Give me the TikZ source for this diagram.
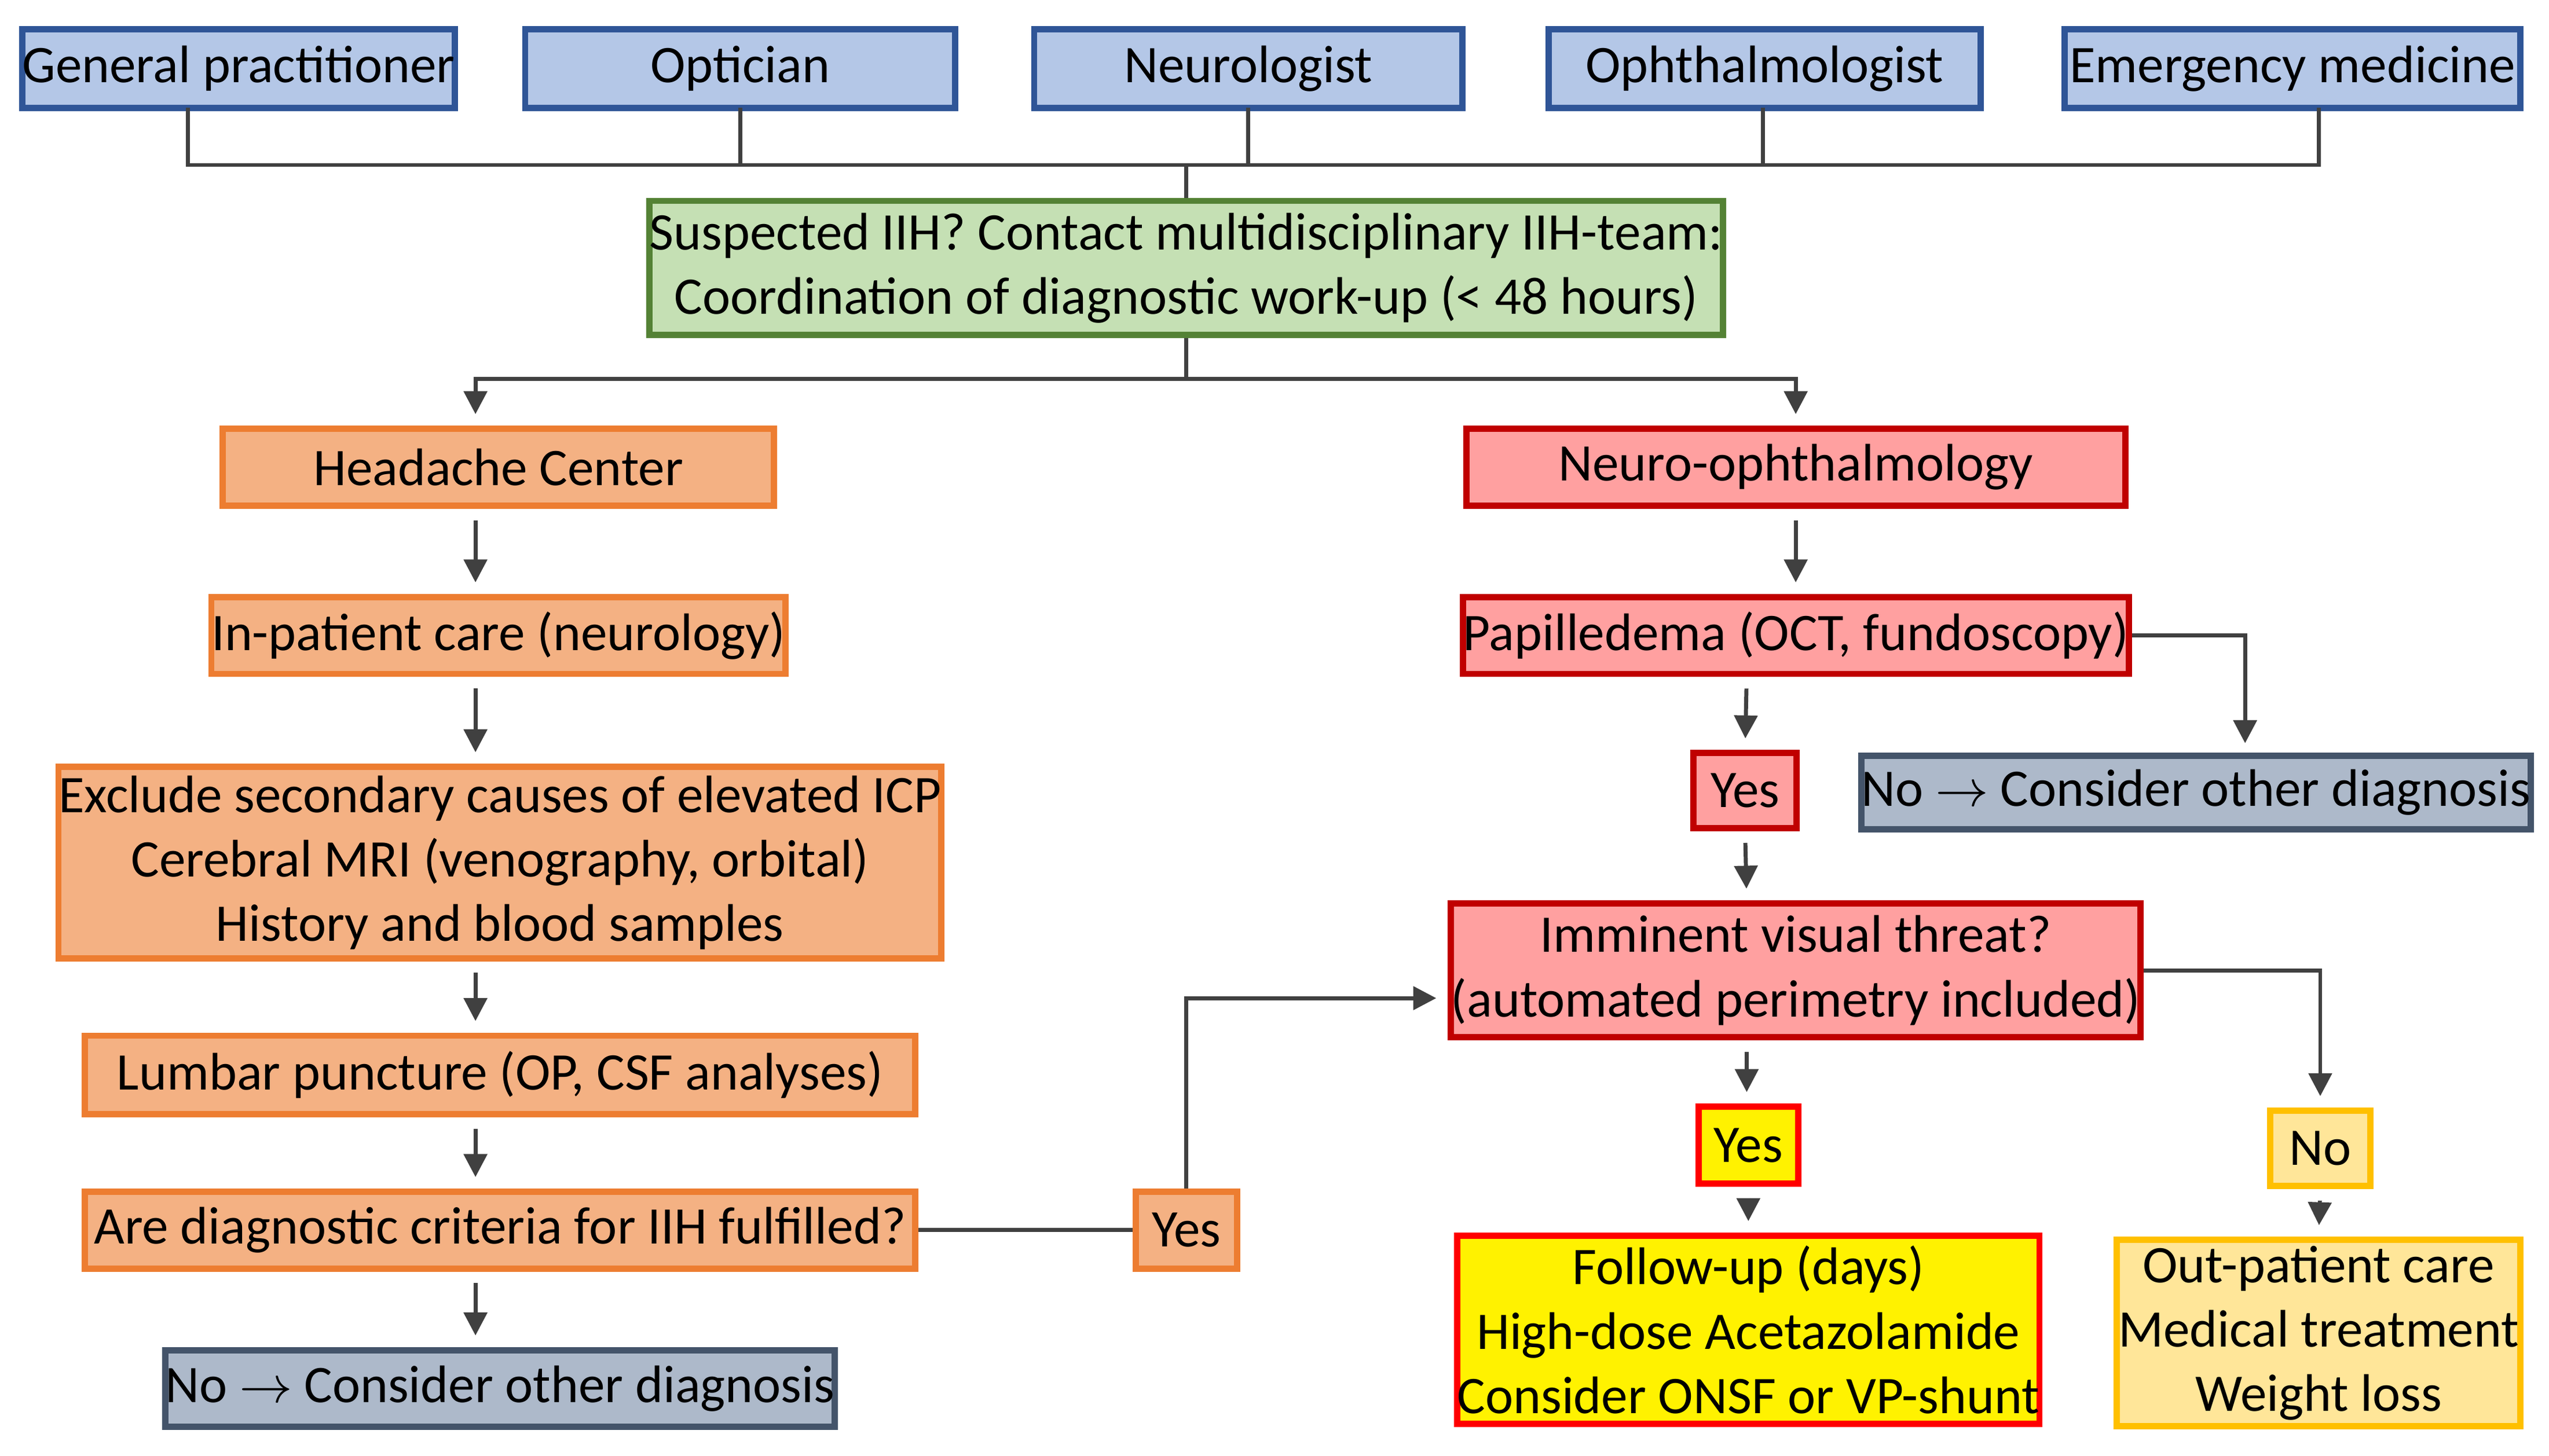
\documentclass[tikz,border=0pt]{standalone}
\usepackage{fontspec}
\setmainfont{Carlito}
\usetikzlibrary{arrows.meta,positioning}
\definecolor{lnk}{HTML}{404040}
\tikzset{
  box/.style={draw, line width=1.1pt, align=center, inner sep=0pt, font=\fontsize{9.2}{11.2}\selectfont},
  src/.style={box, fill=blue!25!cyan!10!white, fill={rgb,255:red,180;green,199;blue,231}, draw={rgb,255:red,47;green,85;blue,151}},
  team/.style={box, fill={rgb,255:red,197;green,224;blue,180}, draw={rgb,255:red,84;green,130;blue,53}},
  hc/.style={box, fill={rgb,255:red,244;green,177;blue,131}, draw={rgb,255:red,237;green,125;blue,49}},
  no/.style={box, fill={rgb,255:red,173;green,185;blue,202}, draw={rgb,255:red,68;green,84;blue,106}},
  neu/.style={box, fill={rgb,255:red,255;green,160;blue,160}, draw={rgb,255:red,192;green,0;blue,0}},
  urg/.style={box, fill=yellow, draw=red},
  mild/.style={box, fill={rgb,255:red,255;green,230;blue,153}, draw={rgb,255:red,255;green,192;blue,0}},
  link/.style={draw=lnk, line width=0.7pt},
  arr/.style={link, -{Triangle[length=4pt,width=4pt]}, shorten <=2pt, shorten >=2pt}
}
\begin{document}
\begin{tikzpicture}[x=0.01cm, y=-0.01cm]
\useasboundingbox (0,0) rectangle (1560,891);
% referring services
\node[src, minimum width=2.63cm, minimum height=0.48cm] (gp) at (146,42) {General practitioner};
\node[src, minimum width=2.63cm, minimum height=0.48cm] (opt) at (453,42) {Optician};
\node[src, minimum width=2.62cm, minimum height=0.48cm] (neur) at (764,42) {Neurologist};
\node[src, minimum width=2.64cm, minimum height=0.48cm] (oph) at (1080,42) {Ophthalmologist};
\node[src, minimum width=2.79cm, minimum height=0.48cm] (em) at (1403,42) {Emergency medicine};
\node[team, minimum width=6.53cm, minimum height=0.82cm] (team) at (726,164) {Suspected IIH? Contact multidisciplinary IIH-team:\\Coordination of diagnostic work-up (< 48 hours)};
\coordinate (bus) at (726,101);
\draw[link] (115,66) |- (bus) (453,66) -- (453,101) (764,66) -- (764,101) (1079,66) -- (1079,101) (1419,66) |- (bus);
\draw[link] (bus) -- (team.north);
% left branch
\node[hc, minimum width=3.37cm, minimum height=0.47cm] (head) at (305,286) {Headache Center};
\node[hc, minimum width=3.37cm, minimum height=0.47cm] (inp) at (305,389) {In-patient care (neurology)};
\node[hc, minimum width=5.08cm, minimum height=1.17cm] (excl) at (306,528) {Exclude secondary causes of elevated ICP\\Cerebral MRI (venography, orbital)\\History and blood samples};
\node[hc, minimum width=5.08cm, minimum height=0.48cm] (lp) at (306,658) {Lumbar puncture (OP, CSF analyses)};
\node[hc, minimum width=5.08cm, minimum height=0.47cm] (crit) at (306,753) {Are diagnostic criteria for IIH fulfilled?};
\node[no, minimum width=4.04cm, minimum height=0.47cm] (noL) at (306,850) {No $\rightarrow$ Consider other diagnosis};
\node[hc, minimum width=0.62cm, minimum height=0.47cm] (yesL) at (726,753) {Yes};
% right branch
\node[neu, minimum width=4.03cm, minimum height=0.47cm] (nop) at (1099,286) {Neuro-ophthalmology};
\node[neu, minimum width=4.03cm, minimum height=0.47cm] (pap) at (1099,389) {Papilledema (OCT, fundoscopy)};
\node[neu, minimum width=0.63cm, minimum height=0.46cm] (yesP) at (1068,484) {Yes};
\node[no, minimum width=3.98cm, minimum height=0.45cm] (noR) at (1344,485) {No $\rightarrow$ Consider other diagnosis};
\node[neu, minimum width=4.03cm, minimum height=0.82cm] (vis) at (1099,594) {Imminent visual threat?\\(automated perimetry included)};
\node[urg, minimum width=0.61cm, minimum height=0.47cm] (yesV) at (1070,701) {Yes};
\node[mild, minimum width=0.61cm, minimum height=0.46cm] (noV) at (1420,703) {No};
\node[urg, minimum width=3.44cm, minimum height=1.15cm] (fu) at (1070,814) {Follow-up (days)\\High-dose Acetazolamide\\Consider ONSF or VP-shunt};
\node[mild, minimum width=2.47cm, minimum height=1.14cm] (outp) at (1419,816) {Out-patient care\\Medical treatment\\Weight loss};
% connectors
\coordinate (split) at (726,232);
\draw[link] (team.south) -- (split);
\draw[arr, shorten <=0pt] (split) -| ([xshift=-0.14cm]head.north);
\draw[arr, shorten <=0pt] (split) -| (nop.north);
\draw[arr] ([xshift=-0.14cm]head.south) -- ([xshift=-0.14cm]inp.north);
\draw[arr] ([xshift=-0.14cm]inp.south) -- ([xshift=-0.15cm]excl.north);
\draw[arr] ([xshift=-0.15cm]excl.south) -- ([xshift=-0.15cm]lp.north);
\draw[arr] ([xshift=-0.15cm]lp.south) -- ([xshift=-0.15cm]crit.north);
\draw[arr] ([xshift=-0.15cm]crit.south) -- ([xshift=-0.15cm]noL.north);
\draw[link] (crit.east) -- (yesL.west);
\draw[arr, shorten <=0pt] (yesL.north) |- ([yshift=-0.17cm]vis.west);
\draw[arr] (nop.south) -- (pap.north);
\draw[arr, shorten <=0pt] (pap.east) -| (1374,462);
\draw[arr] ([xshift=-0.3cm]pap.south) -- (yesP.north);
\draw[arr] (yesP.south) -- ([xshift=-0.3cm]vis.north);
\draw[arr, shorten <=0pt] (vis.east) -| (noV.north);
\draw[arr] ([xshift=-0.3cm]vis.south) -- ([xshift=-0.01cm]yesV.north);
\draw[arr] (yesV.south) -- (fu.north);
\draw[arr] (noV.south) -- (outp.north);
\end{tikzpicture}
\end{document}
